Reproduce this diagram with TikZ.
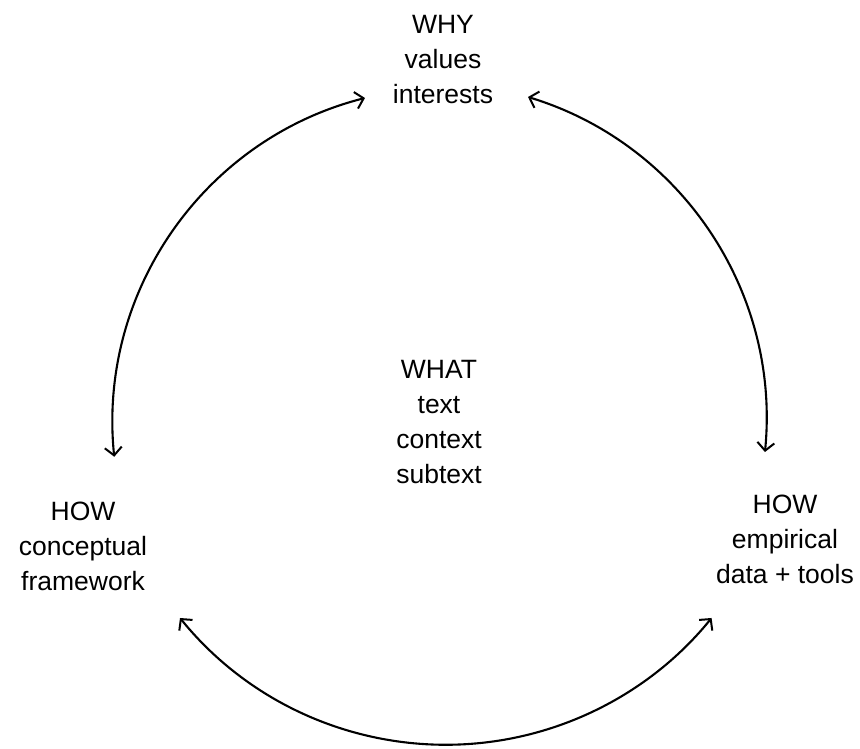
\documentclass[tikz,border=0pt]{standalone}
\usepackage{fontspec}
\setmainfont{Liberation Sans}
\usetikzlibrary{arrows.meta}
\begin{document}
\begin{tikzpicture}[x=1pt,y=1pt,
  lbl/.style={align=center,inner sep=0pt,anchor=north,font=\fontsize{26.5}{35}\selectfont},
  barb/.tip={Straight Barb[length=8pt,width=17pt,line width=2pt]},
  biarrow/.style={line width=2.1pt,barb-barb}]
\useasboundingbox (0,0) rectangle (860,749);
\node[lbl] (why) at (443,734) {WHY\\values\\interests};
\node[lbl] (what) at (439,389) {WHAT\\text\\context\\subtext};
\node[lbl] (howl) at (83,247) {HOW\\conceptual\\framework};
\node[lbl] (howr) at (785,254) {HOW\\empirical\\data + tools};
\coordinate (lstart) at (365,651);
\coordinate (rstart) at (528,652);
\coordinate (bstart) at (180,131);
\draw[biarrow] (lstart) arc[start angle=104.3,end angle=185.8,radius=335.3];
\draw[biarrow] (rstart) arc[start angle=73.07,end angle=-5.63,radius=336.6];
\draw[biarrow] (bstart) arc[start angle=219,end angle=321,radius=342];
\end{tikzpicture}
\end{document}
